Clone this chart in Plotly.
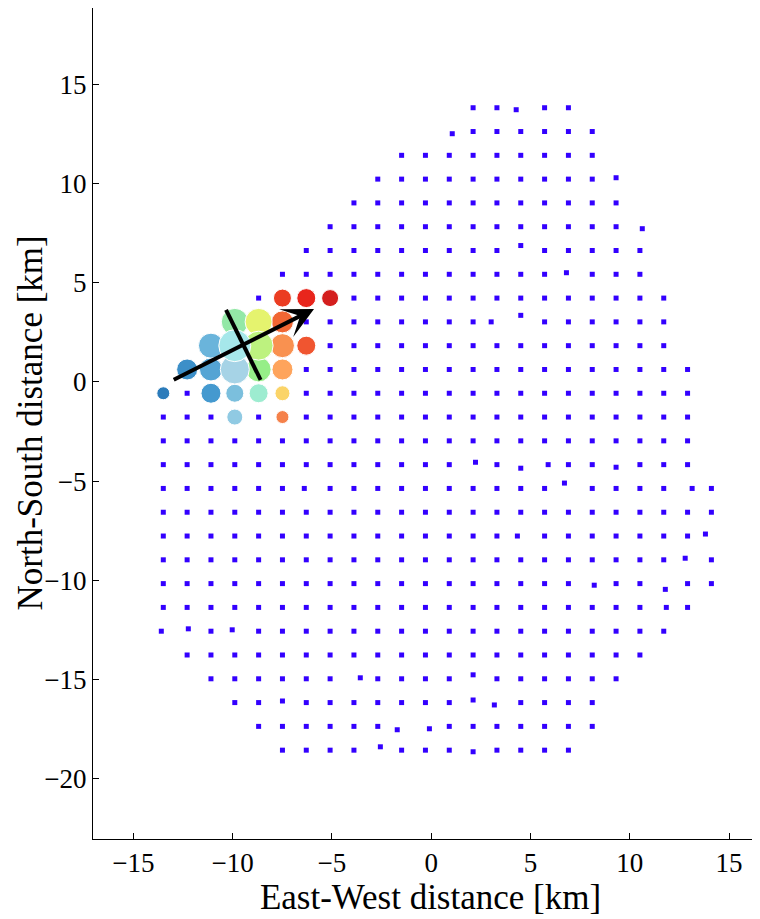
import plotly.graph_objects as go

# ---------------- data (km) ----------------
# regular station rows: y of the row and x positions of stations in that row
row_y = [13.83, 12.63, 11.43, 10.23, 9.03, 7.83, 6.63, 5.43, 4.23, 3.03, 1.83, 0.63,
         -0.57, -1.77, -2.97, -4.17, -5.37, -6.57, -7.77, -8.97, -10.17, -11.37,
         -12.57, -13.77, -14.97, -16.17, -17.37, -18.57]
row_x = [
    [2.11, 3.31, 5.71, 6.91],
    [2.11, 3.31, 4.51, 5.71, 6.91, 8.11],
    [-1.49, -0.29, 0.91, 2.11, 3.31, 4.51, 5.71, 6.91, 8.11],
    [-2.69, -1.49, -0.29, 0.91, 2.11, 3.31, 4.51, 5.71, 6.91, 8.11],
    [-3.89, -2.69, -1.49, -0.29, 0.91, 2.11, 3.31, 4.51, 5.71, 6.91, 8.11, 9.31],
    [-5.09, -3.89, -2.69, -1.49, -0.29, 0.91, 2.11, 3.31, 4.51, 5.71, 6.91, 8.11, 9.31],
    [-6.29, -5.09, -3.89, -2.69, -1.49, -0.29, 0.91, 2.11, 3.31, 5.71, 6.91, 8.11, 9.31, 10.51],
    [-7.49, -6.29, -5.09, -3.89, -2.69, -1.49, -0.29, 0.91, 2.11, 3.31, 4.51, 5.71, 8.11, 9.31, 10.51],
    [-8.69, -3.89, -2.69, -1.49, -0.29, 0.91, 2.11, 3.31, 4.51, 5.71, 6.91, 8.11, 9.31, 10.51, 11.71],
    [-6.29, -5.09, -3.89, -2.69, -1.49, -0.29, 0.91, 2.11, 5.71, 6.91, 8.11, 9.31, 10.51, 11.71],
    [-5.09, -3.89, -2.69, -1.49, -0.29, 0.91, 2.11, 3.31, 4.51, 5.71, 6.91, 8.11, 9.31, 10.51, 11.71],
    [-6.29, -5.09, -3.89, -2.69, -1.49, -0.29, 0.91, 2.11, 3.31, 4.51, 5.71, 6.91, 8.11, 9.31,
     10.51, 11.71, 12.91],
    [-12.29, -6.29, -5.09, -3.89, -2.69, -1.49, -0.29, 0.91, 2.11, 3.31, 4.51, 5.71, 6.91, 8.11,
     9.31, 10.51, 11.71, 12.91],
    [-13.49, -12.29, -11.09, -8.69, -6.29, -5.09, -3.89, -2.69, -1.49, -0.29, 0.91, 2.11, 3.31,
     4.51, 5.71, 6.91, 8.11, 9.31, 10.51, 11.71, 12.91],
    [-13.49, -12.29, -11.09, -9.89, -8.69, -7.49, -6.29, -5.09, -3.89, -2.69, -1.49, -0.29, 0.91,
     2.11, 3.31, 4.51, 5.71, 6.91, 8.11, 9.31, 10.51, 11.71, 12.91],
    [-13.49, -12.29, -11.09, -9.89, -8.69, -7.49, -6.29, -5.09, -3.89, -2.69, -1.49, -0.29, 0.91,
     3.31, 6.91, 8.11, 10.51, 11.71, 12.91],
    [-13.49, -12.29, -11.09, -9.89, -8.69, -7.49, -5.09, -3.89, -2.69, -1.49, -0.29, 0.91, 2.11,
     3.31, 4.51, 5.71, 8.11, 9.31, 10.51, 11.71, 14.11],
    [-13.49, -12.29, -11.09, -9.89, -8.69, -7.49, -6.29, -5.09, -3.89, -2.69, -1.49, -0.29, 0.91,
     2.11, 3.31, 4.51, 5.71, 6.91, 8.11, 9.31, 10.51, 11.71, 12.91, 14.11],
    [-13.49, -12.29, -11.09, -9.89, -8.69, -7.49, -6.29, -5.09, -3.89, -2.69, -1.49, -0.29, 0.91,
     2.11, 3.31, 5.71, 6.91, 8.11, 9.31, 10.51, 11.71, 12.91],
    [-13.49, -12.29, -11.09, -9.89, -8.69, -7.49, -6.29, -5.09, -3.89, -2.69, -1.49, -0.29, 0.91,
     2.11, 3.31, 4.51, 5.71, 6.91, 8.11, 9.31, 10.51, 11.71, 14.11],
    [-13.49, -12.29, -11.09, -9.89, -8.69, -7.49, -6.29, -5.09, -3.89, -2.69, -1.49, -0.29, 0.91,
     2.11, 3.31, 4.51, 5.71, 6.91, 9.31, 10.51, 12.91, 14.11],
    [-13.49, -12.29, -11.09, -9.89, -8.69, -7.49, -6.29, -5.09, -3.89, -2.69, -1.49, -0.29, 0.91,
     2.11, 3.31, 4.51, 5.71, 6.91, 8.11, 9.31, 10.51, 12.91],
    [-11.09, -8.69, -7.49, -6.29, -5.09, -3.89, -2.69, -1.49, -0.29, 0.91, 2.11, 3.31, 4.51,
     5.71, 6.91, 8.11, 9.31, 10.51, 11.71],
    [-12.29, -11.09, -9.89, -8.69, -7.49, -6.29, -5.09, -3.89, -2.69, -1.49, -0.29, 0.91, 2.11,
     3.31, 4.51, 5.71, 6.91, 8.11, 9.31, 10.51],
    [-11.09, -9.89, -8.69, -7.49, -6.29, -5.09, -2.69, -1.49, -0.29, 0.91, 3.31, 4.51, 5.71,
     6.91, 8.11, 9.31],
    [-9.89, -8.69, -6.29, -5.09, -3.89, -2.69, -1.49, -0.29, 0.91, 4.51, 5.71, 6.91, 8.11],
    [-8.69, -7.49, -6.29, -5.09, -3.89, -2.69, 0.91, 2.11, 3.31, 4.51, 5.71, 6.91, 8.11],
    [-7.49, -6.29, -5.09, -3.89, -1.49, -0.29, 0.91, 3.31, 4.51, 5.71, 6.91],
]
# stations displaced from the regular rows
off_x = [4.28, 1.06, 9.31, 10.63, 4.51, 6.81, 3.02, 4.51, 2.23, 4.51, 5.89, 9.31, -6.39,
         6.71, 13.14, 4.34, 13.81, 12.79, 8.21, 11.79, 11.84, -13.59, -12.23, -10.02,
         -3.57, 2.11, -7.49, 2.11, 3.18, -1.71, -0.09, -2.56, 2.11]
off_y = [13.73, 12.52, 10.30, 7.73, 6.88, 5.51, 3.03, 3.36, -4.05, -4.35, -4.17, -4.30,
         -5.37, -5.10, -5.37, -7.77, -7.67, -8.89, -10.25, -10.46, -11.37, -12.57, -12.45,
         -12.50, -14.92, -14.77, -16.09, -16.04, -16.29, -17.54, -17.49, -18.40, -18.65]

# triggered stations: position, amplitude (marker diameter), relative time (colour)
trig_x = [-13.49, -12.29, -11.09, -11.09, -11.09, -9.89, -9.89, -9.89, -9.89, -8.69, -9.89,
          -8.69, -8.69, -8.69, -7.49, -7.49, -7.49, -7.49, -7.49, -6.29, -7.49, -6.29, -5.09]
trig_y = [-0.57, 0.63, -0.57, 0.63, 1.83, -0.57, -1.77, 0.63, 1.83, -0.57, 3.03,
          0.63, 1.83, 3.03, -0.57, 0.63, 1.83, -1.77, 3.03, 1.83, 4.23, 4.23, 4.23]
trig_amp = [13, 21, 20, 23, 25, 18, 16, 29, 32, 19, 27,
            25, 29, 27, 15, 21, 24, 13, 22, 19, 18, 19, 17]
trig_t = [0.00, 0.08, 0.12, 0.17, 0.24, 0.30, 0.33, 0.37, 0.42, 0.47, 0.52,
          0.55, 0.60, 0.65, 0.72, 0.78, 0.82, 0.85, 0.88, 0.91, 0.93, 0.96, 1.00]

colorscale = [
    [0.00, '#2b7bba'], [0.12, '#4499cf'], [0.24, '#6ab4db'], [0.30, '#7bbfdd'],
    [0.33, '#90cae3'], [0.37, '#a6d3e6'], [0.42, '#a6e7ea'], [0.47, '#9decd0'],
    [0.52, '#93e8a6'], [0.55, '#96ee88'], [0.60, '#bdf27f'], [0.65, '#e5f36e'],
    [0.72, '#fbd468'], [0.78, '#fea45c'], [0.82, '#f99150'], [0.85, '#f5814a'],
    [0.88, '#f06633'], [0.91, '#f05530'], [0.93, '#eb3d22'], [0.96, '#e8251c'],
    [1.00, '#d41f1e'],
]

# shower axis arrow (tail -> head) and perpendicular front line
arrow_x = [-13.04, -5.90]
arrow_y = [0.07, 3.68]
front_x = [-10.33, -8.59]
front_y = [3.63, 0.10]

x_ticks = [-15, -10, -5, 0, 5, 10, 15]
y_ticks = [-20, -15, -10, -5, 0, 5, 10, 15]

# ---------------- figure ----------------
sx, sy = [], []
for yv, xs in zip(row_y, row_x):
    sx.extend(xs)
    sy.extend([yv] * len(xs))
sx.extend(off_x)
sy.extend(off_y)

fig = go.Figure()
fig.add_trace(go.Scatter(
    x=sx, y=sy, mode='markers',
    marker=dict(symbol='square', size=5, color='#3300ff', opacity=1, line=dict(width=0)),
    hoverinfo='skip', showlegend=False))

order = sorted(range(len(trig_x)), key=lambda k: trig_amp[k])
fig.add_trace(go.Scatter(
    x=[trig_x[k] for k in order], y=[trig_y[k] for k in order], mode='markers',
    marker=dict(size=[trig_amp[k] for k in order], color=[trig_t[k] for k in order],
                colorscale=colorscale, cmin=0, cmax=1, opacity=1,
                line=dict(color='white', width=1)),
    hoverinfo='skip', showlegend=False))

fig.add_trace(go.Scatter(
    x=front_x, y=front_y, mode='lines', line=dict(color='black', width=4),
    hoverinfo='skip', showlegend=False))

fig.add_annotation(
    x=arrow_x[1], y=arrow_y[1], ax=arrow_x[0], ay=arrow_y[0],
    xref='x', yref='y', axref='x', ayref='y', text='', showarrow=True,
    arrowhead=3, arrowsize=1.3, arrowwidth=4, arrowcolor='black')

font_family = 'Liberation Serif, Times New Roman, serif'

# y-axis title as a rotated annotation (placed left of the tick labels)
fig.add_annotation(
    text='North-South distance [km]', xref='paper', yref='paper', x=0, y=0.5,
    xanchor='center', yanchor='middle', xshift=-63, textangle=-90, showarrow=False,
    font=dict(family=font_family, size=35, color='black'))

axis_common = dict(
    showgrid=False, zeroline=False, showline=True, linecolor='black', linewidth=1,
    ticks='inside', ticklen=6, tickcolor='black', tickwidth=1,
    tickfont=dict(family=font_family, size=27, color='black'),
    mirror=False, automargin=False,
)
fig.update_layout(
    width=760, height=919,
    margin=dict(l=85, r=0, t=0, b=88),
    paper_bgcolor='white', plot_bgcolor='white',
    font=dict(family=font_family, color='black'),
    xaxis=dict(range=[-17.03, 16.96], tickvals=x_ticks,
               title=dict(text='East-West distance [km]',
                          font=dict(family=font_family, size=35), standoff=0),
               **axis_common),
    yaxis=dict(range=[-23.05, 18.86], tickvals=y_ticks, **axis_common),
)

fig.write_html('out.html')
